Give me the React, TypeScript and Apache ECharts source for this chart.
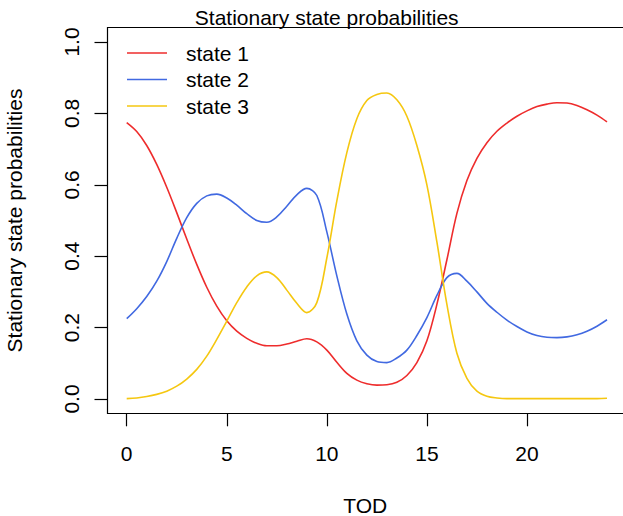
import React, { useEffect, useRef } from "react";
import * as echarts from "echarts";

const TOD = [
  0, 0.5, 1, 1.5, 2, 2.5, 3, 3.5, 4, 4.5, 5, 5.5, 6, 6.5, 7, 7.5, 8, 8.5, 9, 9.5,
  10, 10.5, 11, 11.5, 12, 12.5, 13, 13.5, 14, 14.5, 15, 15.5, 16, 16.5, 17, 17.5,
  18, 18.5, 19, 19.5, 20, 20.5, 21, 21.5, 22, 22.5, 23, 23.5, 24,
];

const STATE1 = [
  0.774, 0.749, 0.71, 0.657, 0.593, 0.522, 0.448, 0.377, 0.313, 0.26, 0.219, 0.19,
  0.17, 0.156, 0.149, 0.149, 0.154, 0.162, 0.169, 0.16, 0.137, 0.103, 0.072, 0.053,
  0.043, 0.039, 0.04, 0.047, 0.066, 0.102, 0.163, 0.265, 0.39, 0.52, 0.612, 0.674,
  0.718, 0.75, 0.773, 0.792, 0.807, 0.819, 0.826, 0.83, 0.829, 0.822, 0.81, 0.795, 0.776,
];

const STATE2 = [
  0.225, 0.253, 0.287, 0.33, 0.385, 0.45, 0.508, 0.548, 0.569, 0.574, 0.563, 0.543,
  0.519, 0.5, 0.495, 0.51, 0.54, 0.572, 0.59, 0.57, 0.468, 0.345, 0.238, 0.163,
  0.123, 0.105, 0.102, 0.115, 0.137, 0.178, 0.228, 0.29, 0.34, 0.352, 0.33, 0.3,
  0.268, 0.243, 0.221, 0.203, 0.188, 0.178, 0.173, 0.172, 0.174, 0.18, 0.19, 0.204, 0.222,
];

const STATE3 = [
  0.001, 0.003, 0.007, 0.013, 0.022, 0.036, 0.056, 0.083, 0.12, 0.167, 0.218, 0.27,
  0.314, 0.345, 0.356, 0.34, 0.305, 0.268, 0.242, 0.27, 0.395, 0.555, 0.69, 0.785,
  0.836, 0.853, 0.857, 0.838, 0.792, 0.71, 0.6, 0.44, 0.265, 0.128, 0.058, 0.022,
  0.008, 0.003, 0.001, 0.001, 0.001, 0.001, 0.001, 0.001, 0.001, 0.001, 0.001, 0.001, 0.002,
];

const X_TICKS = [0, 5, 10, 15, 20];
const Y_TICKS = [0, 0.2, 0.4, 0.6, 0.8, 1.0];
const SERIES_NAMES = ["state 1", "state 2", "state 3"];
const COLORS = ["#EE2C2C", "#4169E1", "#F5C710"];
const TITLE = "Stationary state probabilities";
const Y_NAME = "Stationary state probabilities";
const X_NAME = "TOD";

const FONT = "'Liberation Sans', Arial, Helvetica, sans-serif";
const FS = 21;

export default function App() {
  const ref = useRef<HTMLDivElement>(null);
  useEffect(() => {
    if (!ref.current) return;
    const chart = echarts.init(ref.current, null, { renderer: "svg" });
    const values = [STATE1, STATE2, STATE3];
    const series = values.map((vals, i) => ({
      name: SERIES_NAMES[i],
      type: "line",
      data: TOD.map((t, j) => [t, vals[j]]),
      smooth: 0.35,
      symbol: "none",
      showSymbol: false,
      color: COLORS[i],
      lineStyle: { color: COLORS[i], width: 1.6 },
      xAxisIndex: 0,
      yAxisIndex: 0,
    }));
    const axisLineStyle = { color: "#000", width: 1.2 };
    chart.setOption({
      animation: false,
      backgroundColor: "#fff",
      textStyle: { fontFamily: FONT },
      grid: {
        left: 107.5,
        right: 0,
        top: 27.7,
        bottom: 102.7,
        containLabel: false,
        outerBoundsMode: "none",
      },
      legend: {
        show: true,
        orient: "vertical",
        left: 127,
        top: 42.5,
        padding: 0,
        icon: "rect",
        itemWidth: 40,
        itemHeight: 1.6,
        itemGap: 5.5,
        data: SERIES_NAMES,
        textStyle: {
          fontFamily: FONT,
          fontSize: FS,
          color: "#000",
          lineHeight: 21,
          padding: [0, 0, 0, 14],
        },
      },
      graphic: [
        {
          type: "text",
          x: 326.7,
          y: 17.7,
          style: {
            text: TITLE,
            font: `${FS}px ${FONT}`,
            fill: "#000",
            align: "center",
            verticalAlign: "middle",
          },
        },
        {
          type: "text",
          x: 14,
          y: 220.5,
          rotation: Math.PI / 2,
          style: {
            text: Y_NAME,
            font: `${FS}px ${FONT}`,
            fill: "#000",
            align: "center",
            verticalAlign: "middle",
          },
        },
      ],
      xAxis: [
        {
          type: "value",
          min: -0.96,
          max: 24.8,
          position: "bottom",
          name: X_NAME,
          nameLocation: "middle",
          nameGap: 81.5,
          nameTextStyle: { fontFamily: FONT, fontSize: FS, color: "#000" },
          axisLine: { show: true, onZero: false, lineStyle: axisLineStyle },
          axisTick: {
            show: true,
            length: 13,
            customValues: X_TICKS,
            lineStyle: axisLineStyle,
          },
          axisLabel: {
            show: true,
            customValues: X_TICKS,
            margin: 30,
            fontFamily: FONT,
            fontSize: FS,
            color: "#000",
            formatter: (v: number) => String(v),
          },
          splitLine: { show: false },
        },
        {
          type: "value",
          min: -0.96,
          max: 24.8,
          position: "top",
          axisLine: { show: true, onZero: false, lineStyle: axisLineStyle },
          axisTick: { show: false },
          axisLabel: { show: false },
          splitLine: { show: false },
        },
      ],
      yAxis: {
        type: "value",
        min: -0.04,
        max: 1.04,
        axisLine: { show: true, onZero: false, lineStyle: axisLineStyle },
        axisTick: {
          show: true,
          length: 13,
          customValues: Y_TICKS,
          lineStyle: axisLineStyle,
        },
        axisLabel: {
          show: true,
          customValues: Y_TICKS,
          rotate: 90,
          margin: 26,
          fontFamily: FONT,
          fontSize: FS,
          color: "#000",
          formatter: (v: number) => v.toFixed(1),
        },
        splitLine: { show: false },
      },
      series,
    });
    return () => chart.dispose();
  }, []);
  return (
    <div
      ref={ref}
      style={{ position: "fixed", left: 0, top: 0, width: 623, height: 516 }}
    />
  );
}
